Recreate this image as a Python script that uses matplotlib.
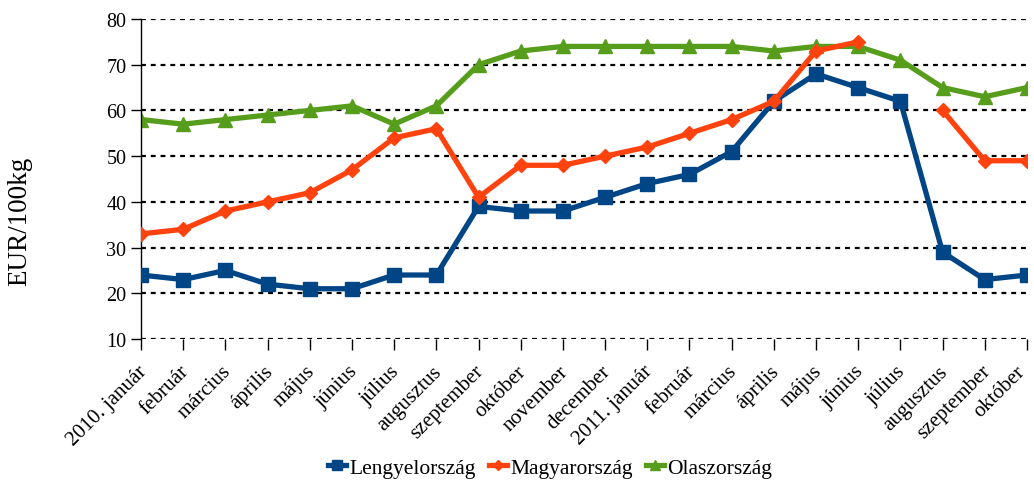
import matplotlib.pyplot as plt
import matplotlib.transforms as mtransforms
import numpy as np

plt.rcParams["font.family"] = ["Liberation Serif", "DejaVu Serif"]

months = ["2010. január", "február", "március", "április", "május", "június",
          "július", "augusztus", "szeptember", "október", "november", "december",
          "2011. január", "február", "március", "április", "május", "június",
          "július", "augusztus", "szeptember", "október"]

lengyel = [24, 23, 25, 22, 21, 21, 24, 24, 39, 38, 38, 41,
           44, 46, 51, 62, 68, 65, 62, 29, 23, 24]
magyar = [33, 34, 38, 40, 42, 47, 54, 56, 41, 48, 48, 50,
          52, 55, 58, 62, 73, 75, np.nan, 60, 49, 49]
olasz = [58, 57, 58, 59, 60, 61, 57, 61, 70, 73, 74, 74,
         74, 74, 74, 73, 74, 74, 71, 65, 63, 65]

x = np.arange(len(months))

fig = plt.figure(figsize=(10.34, 4.81), dpi=100)
ax = fig.add_axes([0.1364, 0.2931, 0.8568, 0.6653])

for y in range(10, 81, 10):
    ax.axhline(y, color="black", lw=1.6, ls=(0, (2.2, 2.2)), zorder=1)

ax.plot(x, lengyel, color="#004586", lw=3.8, marker="s", ms=10,
        label="Lengyelország", zorder=3)
ax.plot(x, magyar, color="#FF420E", lw=3.8, marker="D", ms=7.5,
        label="Magyarország", zorder=4)
ax.plot(x, olasz, color="#579D1C", lw=3.8, marker="^", ms=10,
        label="Olaszország", zorder=2)

ax.set_xlim(0, 21)
ax.set_ylim(10, 80)
ax.set_yticks(range(10, 81, 10))
ax.set_xticks(x)
ax.tick_params(axis="y", labelsize=14.5, length=7, width=1, direction="out")
ax.tick_params(axis="x", length=8, width=1, direction="out", pad=4)
ax.set_xticklabels(months, rotation=45, ha="right", rotation_mode="anchor",
                   fontsize=15)
# nudge the slanted labels; the last one a little more so it stays inside
labels = ax.get_xticklabels()
for i, lab in enumerate(labels):
    dx = -11 if i == len(labels) - 1 else -4
    shift = mtransforms.ScaledTranslation(dx / 100, -6 / 100, fig.dpi_scale_trans)
    lab.set_transform(lab.get_transform() + shift)
for s in ["top", "right", "bottom"]:
    ax.spines[s].set_visible(False)
ax.spines["left"].set_linewidth(1)

ax.set_ylabel("EUR/100kg", fontsize=19.5)
ax.yaxis.set_label_coords(-0.123, 0.37)

fig.legend(loc="center", bbox_to_anchor=(0.532, 0.026), ncol=3, frameon=False,
           fontsize=15.5, handlelength=0.85, handletextpad=0.15,
           columnspacing=0.6, markerscale=0.7)

fig.savefig("out.png", dpi=100)
